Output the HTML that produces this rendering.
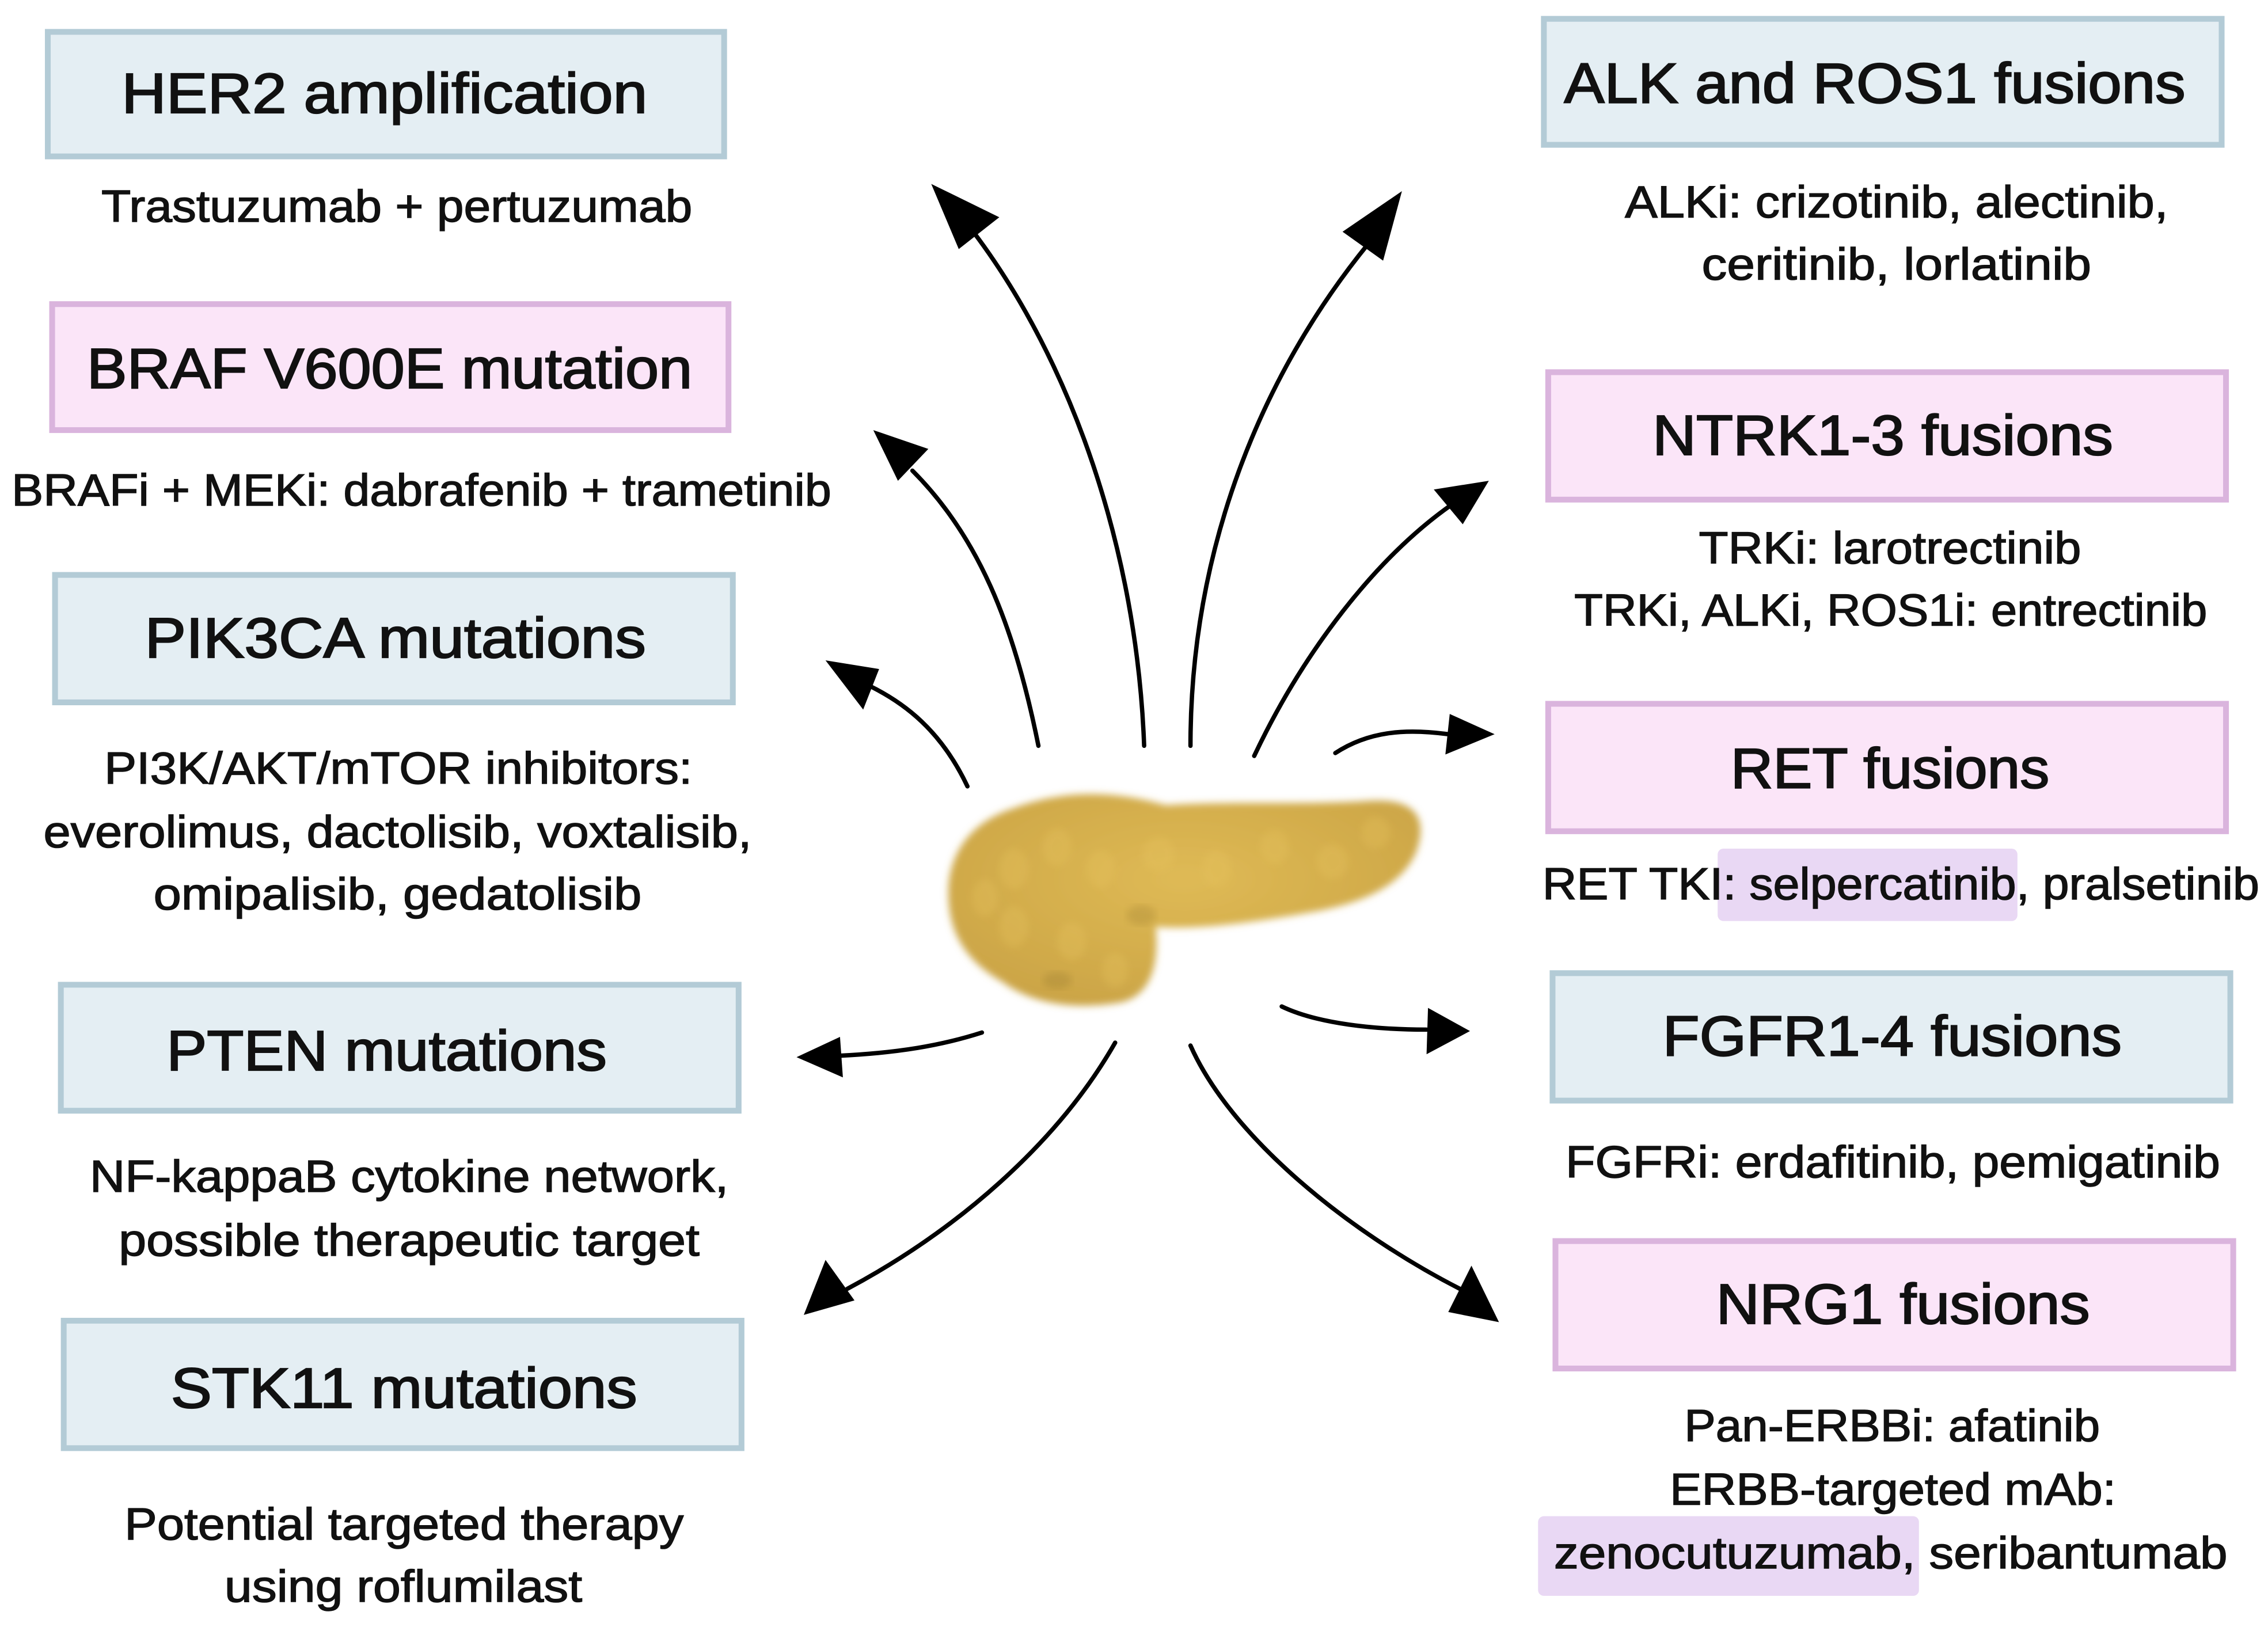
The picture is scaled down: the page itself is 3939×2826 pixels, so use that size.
<!DOCTYPE html>
<html><head><meta charset="utf-8"><style>
html,body{margin:0;padding:0;background:#fff;}
svg{display:block;}
text{font-family:"Liberation Sans",sans-serif;fill:#111;}
.t{font-size:39px;stroke:#111;stroke-width:0.9px;}
.s{font-size:31px;stroke:#111;stroke-width:0.6px;}
.b{fill:#e4eef3;stroke:#b3cbd6;stroke-width:4;}
.p{fill:#fbe5f8;stroke:#dab4dd;stroke-width:4;}
.ln{fill:none;stroke:#000;stroke-width:3;stroke-linecap:round;}
</style></head><body>
<svg width="3939" height="2826" viewBox="0 0 1566 1123.5" xmlns="http://www.w3.org/2000/svg">
<defs>
<filter id="bl" x="-10%" y="-10%" width="120%" height="120%"><feGaussianBlur stdDeviation="2.5"/></filter>
<radialGradient id="pg" cx="50%" cy="40%" r="70%"><stop offset="0" stop-color="#dfba55"/><stop offset="1" stop-color="#c9a244"/></radialGradient>
</defs>
<rect width="1566" height="1123.5" fill="#fff"/>
<rect class="b" x="33" y="22" width="467" height="86"/>
<rect class="p" x="36" y="210" width="467" height="87"/>
<rect class="b" x="38" y="397" width="468" height="88"/>
<rect class="b" x="42" y="680" width="468" height="87"/>
<rect class="b" x="44" y="912" width="468" height="88"/>
<rect class="b" x="1066" y="13" width="468" height="87"/>
<rect class="p" x="1069" y="257" width="468" height="88"/>
<rect class="p" x="1069" y="486" width="468" height="88"/>
<rect class="b" x="1072" y="672" width="468" height="88"/>
<rect class="p" x="1074" y="857" width="468" height="88"/>
<rect x="1186" y="586" width="207" height="50" rx="4" fill="#e9d8f4"/>
<rect x="1062" y="1047" width="263" height="55" rx="4" fill="#e9d8f4"/>
<text class="t" x="84" y="78" textLength="363" lengthAdjust="spacingAndGlyphs">HER2 amplification</text>
<text class="t" x="60" y="268" textLength="418" lengthAdjust="spacingAndGlyphs">BRAF V600E mutation</text>
<text class="t" x="100" y="454" textLength="346" lengthAdjust="spacingAndGlyphs">PIK3CA mutations</text>
<text class="t" x="115" y="739" textLength="304" lengthAdjust="spacingAndGlyphs">PTEN mutations</text>
<text class="t" x="118" y="972" textLength="322" lengthAdjust="spacingAndGlyphs">STK11 mutations</text>
<text class="t" x="1080" y="71" textLength="429" lengthAdjust="spacingAndGlyphs">ALK and ROS1 fusions</text>
<text class="t" x="1141" y="314" textLength="318" lengthAdjust="spacingAndGlyphs">NTRK1-3 fusions</text>
<text class="t" x="1195" y="544" textLength="220" lengthAdjust="spacingAndGlyphs">RET fusions</text>
<text class="t" x="1148" y="729" textLength="317" lengthAdjust="spacingAndGlyphs">FGFR1-4 fusions</text>
<text class="t" x="1185" y="914" textLength="258" lengthAdjust="spacingAndGlyphs">NRG1 fusions</text>
<text class="s" x="70" y="153" textLength="408" lengthAdjust="spacingAndGlyphs">Trastuzumab + pertuzumab</text>
<text class="s" x="8" y="349" textLength="566" lengthAdjust="spacingAndGlyphs">BRAFi + MEKi: dabrafenib + trametinib</text>
<text class="s" x="72" y="541" textLength="406" lengthAdjust="spacingAndGlyphs">PI3K/AKT/mTOR inhibitors:</text>
<text class="s" x="30" y="585" textLength="489" lengthAdjust="spacingAndGlyphs">everolimus, dactolisib, voxtalisib,</text>
<text class="s" x="106" y="628" textLength="337" lengthAdjust="spacingAndGlyphs">omipalisib, gedatolisib</text>
<text class="s" x="62" y="823" textLength="441" lengthAdjust="spacingAndGlyphs">NF-kappaB cytokine network,</text>
<text class="s" x="82" y="867" textLength="401" lengthAdjust="spacingAndGlyphs">possible therapeutic target</text>
<text class="s" x="86" y="1063" textLength="386" lengthAdjust="spacingAndGlyphs">Potential targeted therapy</text>
<text class="s" x="155" y="1106" textLength="247" lengthAdjust="spacingAndGlyphs">using roflumilast</text>
<text class="s" x="1122" y="150" textLength="375" lengthAdjust="spacingAndGlyphs">ALKi: crizotinib, alectinib,</text>
<text class="s" x="1175" y="193" textLength="269" lengthAdjust="spacingAndGlyphs">ceritinib, lorlatinib</text>
<text class="s" x="1173" y="389" textLength="264" lengthAdjust="spacingAndGlyphs">TRKi: larotrectinib</text>
<text class="s" x="1087" y="432" textLength="437" lengthAdjust="spacingAndGlyphs">TRKi, ALKi, ROS1i: entrectinib</text>
<text class="s" x="1065" y="621" textLength="495" lengthAdjust="spacingAndGlyphs">RET TKI: selpercatinib, pralsetinib</text>
<text class="s" x="1081" y="813" textLength="452" lengthAdjust="spacingAndGlyphs">FGFRi: erdafitinib, pemigatinib</text>
<text class="s" x="1163" y="995" textLength="287" lengthAdjust="spacingAndGlyphs">Pan-ERBBi: afatinib</text>
<text class="s" x="1153" y="1039" textLength="308" lengthAdjust="spacingAndGlyphs">ERBB-targeted mAb:</text>
<text class="s" x="1073" y="1083" textLength="465" lengthAdjust="spacingAndGlyphs">zenocutuzumab, seribantumab</text>
<path class="ln" d="M790,515 C785,380 740,250 672,160"/>
<polygon points="643,127 690,150 662,172"/>
<path class="ln" d="M717,515 C700,430 675,370 630,325"/>
<polygon points="603,297 641,310 620,332"/>
<path class="ln" d="M668,543 C650,505 625,485 597,472"/>
<polygon points="570,456 607,462 596,490"/>
<path class="ln" d="M822,515 C822,380 870,260 945,168"/>
<polygon points="968,132 955,180 927,160"/>
<path class="ln" d="M866,522 C900,450 950,385 1003,348"/>
<polygon points="1028,332 1010,362 990,338"/>
<path class="ln" d="M922,520 C945,505 970,503 1000,507"/>
<polygon points="1032,507 998,521 1001,493"/>
<path class="ln" d="M678,713 C650,722 620,727 580,729"/>
<polygon points="550,730 580,716 582,744"/>
<path class="ln" d="M770,720 C730,790 660,850 585,890"/>
<polygon points="555,908 570,870 590,898"/>
<path class="ln" d="M885,695 C910,707 950,711 985,711"/>
<polygon points="1015,712 985,728 986,696"/>
<path class="ln" d="M822,722 C850,785 930,850 1008,890"/>
<polygon points="1035,913 1000,906 1016,874"/>
<g filter="url(#bl)">
<path fill="url(#pg)" d="M700,558 C735,545 770,546 805,556 C850,553 900,556 945,553 C978,551 986,565 978,588 C968,612 940,624 905,630 C860,638 825,642 798,640 C800,662 797,686 775,692 C742,698 712,693 692,678 C664,662 653,640 655,610 C658,583 675,566 700,558 Z"/>
</g>
<g fill="#e8c560" opacity="0.3" filter="url(#bl)">
<ellipse cx="700" cy="600" rx="10" ry="14"/><ellipse cx="730" cy="585" rx="10" ry="13"/><ellipse cx="760" cy="600" rx="10" ry="13"/>
<ellipse cx="800" cy="590" rx="11" ry="12"/><ellipse cx="840" cy="600" rx="10" ry="13"/><ellipse cx="880" cy="585" rx="10" ry="12"/>
<ellipse cx="920" cy="595" rx="11" ry="12"/><ellipse cx="700" cy="640" rx="10" ry="14"/><ellipse cx="740" cy="650" rx="10" ry="13"/>
<ellipse cx="770" cy="670" rx="9" ry="12"/><ellipse cx="950" cy="575" rx="10" ry="11"/><ellipse cx="680" cy="620" rx="9" ry="13"/>
</g>
<ellipse cx="730" cy="677" rx="10" ry="6" fill="#9f8030" opacity="0.35" filter="url(#bl)"/>
<ellipse cx="788" cy="632" rx="10" ry="7" fill="#9f8030" opacity="0.3" filter="url(#bl)"/>
</svg>
</body></html>
